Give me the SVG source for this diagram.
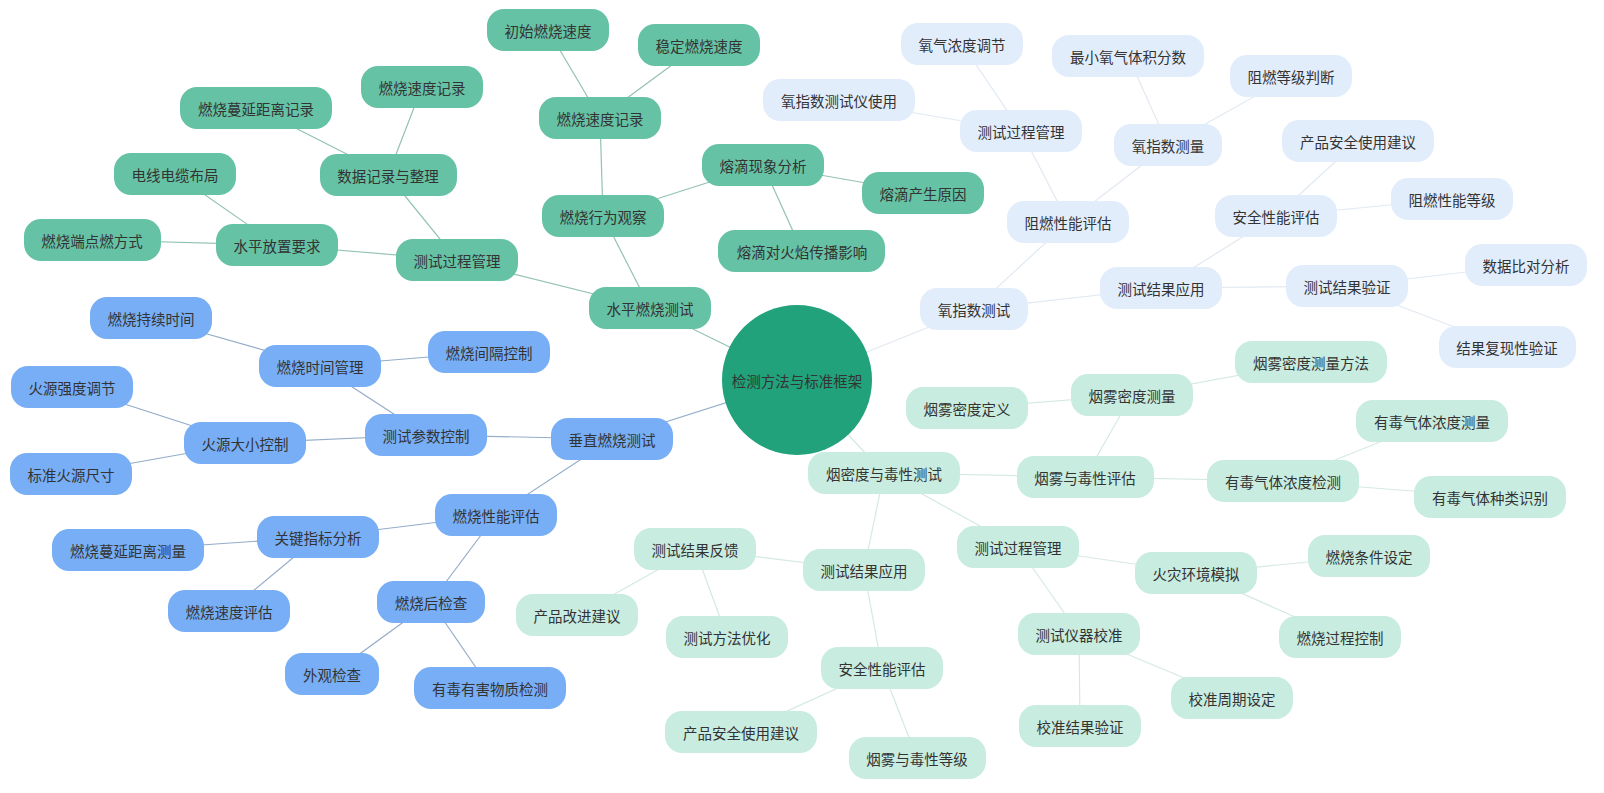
<svg xmlns="http://www.w3.org/2000/svg" width="1604" height="793" viewBox="0 0 1604 793">
<style>
text{font-family:"Noto Sans CJK SC","Noto Sans",sans-serif;font-size:14.5px;fill:#333;text-anchor:middle;dominant-baseline:central}
.g rect{fill:#66c2a5}
.b rect{fill:#78aef5}
.o rect{fill:#e2edfc}
.s rect{fill:#c8ece0}
.eg{stroke:#93c2b0;stroke-width:1.2;fill:none}
.eb{stroke:#93acc8;stroke-width:1.2;fill:none}
.eo{stroke:#e1e9f1;stroke-width:1.2;fill:none}
.es{stroke:#d5e9e2;stroke-width:1.2;fill:none}
</style>
<rect width="1604" height="793" fill="#ffffff"/>
<g id="connectors">
<line class="eg" x1="797" y1="380" x2="650" y2="308"/>
<line class="eb" x1="797" y1="380" x2="612" y2="439"/>
<line class="eo" x1="797" y1="380" x2="974" y2="309"/>
<line class="es" x1="797" y1="380" x2="884" y2="473"/>
<line class="eg" x1="650" y1="308" x2="457" y2="260"/>
<line class="eg" x1="650" y1="308" x2="603" y2="216"/>
<line class="eg" x1="457" y1="260" x2="277" y2="245"/>
<line class="eg" x1="457" y1="260" x2="388" y2="175"/>
<line class="eg" x1="277" y1="245" x2="92" y2="240"/>
<line class="eg" x1="277" y1="245" x2="175" y2="174"/>
<line class="eg" x1="388" y1="175" x2="256" y2="108"/>
<line class="eg" x1="388" y1="175" x2="422" y2="87"/>
<line class="eg" x1="603" y1="216" x2="600" y2="118"/>
<line class="eg" x1="603" y1="216" x2="763" y2="165"/>
<line class="eg" x1="600" y1="118" x2="548" y2="30"/>
<line class="eg" x1="600" y1="118" x2="699" y2="45"/>
<line class="eg" x1="763" y1="165" x2="923" y2="193"/>
<line class="eg" x1="763" y1="165" x2="802" y2="251"/>
<line class="eb" x1="612" y1="439" x2="426" y2="435"/>
<line class="eb" x1="612" y1="439" x2="496" y2="515"/>
<line class="eb" x1="426" y1="435" x2="320" y2="366"/>
<line class="eb" x1="426" y1="435" x2="245" y2="443"/>
<line class="eb" x1="320" y1="366" x2="151" y2="318"/>
<line class="eb" x1="320" y1="366" x2="489" y2="352"/>
<line class="eb" x1="245" y1="443" x2="72" y2="387"/>
<line class="eb" x1="245" y1="443" x2="71" y2="474"/>
<line class="eb" x1="496" y1="515" x2="318" y2="537"/>
<line class="eb" x1="496" y1="515" x2="431" y2="602"/>
<line class="eb" x1="318" y1="537" x2="128" y2="550"/>
<line class="eb" x1="318" y1="537" x2="229" y2="611"/>
<line class="eb" x1="431" y1="602" x2="332" y2="674"/>
<line class="eb" x1="431" y1="602" x2="490" y2="688"/>
<line class="eo" x1="974" y1="309" x2="1068" y2="222"/>
<line class="eo" x1="974" y1="309" x2="1161" y2="288"/>
<line class="eo" x1="1068" y1="222" x2="1021" y2="131"/>
<line class="eo" x1="1068" y1="222" x2="1168" y2="145"/>
<line class="eo" x1="1021" y1="131" x2="962" y2="44"/>
<line class="eo" x1="1021" y1="131" x2="839" y2="100"/>
<line class="eo" x1="1168" y1="145" x2="1128" y2="56"/>
<line class="eo" x1="1168" y1="145" x2="1291" y2="76"/>
<line class="eo" x1="1161" y1="288" x2="1276" y2="216"/>
<line class="eo" x1="1161" y1="288" x2="1347" y2="286"/>
<line class="eo" x1="1276" y1="216" x2="1358" y2="141"/>
<line class="eo" x1="1276" y1="216" x2="1452" y2="199"/>
<line class="eo" x1="1347" y1="286" x2="1526" y2="265"/>
<line class="eo" x1="1347" y1="286" x2="1507" y2="347"/>
<line class="es" x1="884" y1="473" x2="1085" y2="477"/>
<line class="es" x1="884" y1="473" x2="1018" y2="547"/>
<line class="es" x1="884" y1="473" x2="864" y2="570"/>
<line class="es" x1="1085" y1="477" x2="1132" y2="395"/>
<line class="es" x1="1085" y1="477" x2="1283" y2="481"/>
<line class="es" x1="1132" y1="395" x2="967" y2="408"/>
<line class="es" x1="1132" y1="395" x2="1311" y2="362"/>
<line class="es" x1="1283" y1="481" x2="1432" y2="421"/>
<line class="es" x1="1283" y1="481" x2="1490" y2="497"/>
<line class="es" x1="1018" y1="547" x2="1196" y2="573"/>
<line class="es" x1="1018" y1="547" x2="1079" y2="634"/>
<line class="es" x1="1196" y1="573" x2="1369" y2="556"/>
<line class="es" x1="1196" y1="573" x2="1340" y2="637"/>
<line class="es" x1="1079" y1="634" x2="1232" y2="698"/>
<line class="es" x1="1079" y1="634" x2="1080" y2="726"/>
<line class="es" x1="864" y1="570" x2="695" y2="549"/>
<line class="es" x1="864" y1="570" x2="882" y2="668"/>
<line class="es" x1="695" y1="549" x2="577" y2="615"/>
<line class="es" x1="695" y1="549" x2="727" y2="637"/>
<line class="es" x1="882" y1="668" x2="741" y2="732"/>
<line class="es" x1="882" y1="668" x2="917" y2="758"/>
</g>
<g id="root"><circle cx="797" cy="380" r="75" fill="#21a27a"/><text x="797" y="380">检测方法与标准框架</text></g>
<g id="h0" class="g"><rect x="589" y="287" width="122" height="42" rx="17"/><text x="650" y="308">水平燃烧测试</text></g>
<g id="h1" class="g"><rect x="396" y="239" width="122" height="42" rx="17"/><text x="457" y="260">测试过程管理</text></g>
<g id="h2" class="g"><rect x="216" y="224" width="122" height="42" rx="17"/><text x="277" y="245">水平放置要求</text></g>
<g id="h3" class="g"><rect x="24" y="219" width="137" height="42" rx="17"/><text x="92" y="240">燃烧端点燃方式</text></g>
<g id="h4" class="g"><rect x="114" y="153" width="122" height="42" rx="17"/><text x="175" y="174">电线电缆布局</text></g>
<g id="h5" class="g"><rect x="320" y="154" width="137" height="42" rx="17"/><text x="388" y="175">数据记录与整理</text></g>
<g id="h6" class="g"><rect x="180" y="87" width="152" height="42" rx="17"/><text x="256" y="108">燃烧蔓延距离记录</text></g>
<g id="h7" class="g"><rect x="361" y="66" width="122" height="42" rx="17"/><text x="422" y="87">燃烧速度记录</text></g>
<g id="h8" class="g"><rect x="542" y="195" width="122" height="42" rx="17"/><text x="603" y="216">燃烧行为观察</text></g>
<g id="h9" class="g"><rect x="539" y="97" width="122" height="42" rx="17"/><text x="600" y="118">燃烧速度记录</text></g>
<g id="h10" class="g"><rect x="487" y="9" width="122" height="42" rx="17"/><text x="548" y="30">初始燃烧速度</text></g>
<g id="h11" class="g"><rect x="638" y="24" width="122" height="42" rx="17"/><text x="699" y="45">稳定燃烧速度</text></g>
<g id="h12" class="g"><rect x="702" y="144" width="122" height="42" rx="17"/><text x="763" y="165">熔滴现象分析</text></g>
<g id="h13" class="g"><rect x="862" y="172" width="122" height="42" rx="17"/><text x="923" y="193">熔滴产生原因</text></g>
<g id="h14" class="g"><rect x="718" y="230" width="167" height="42" rx="17"/><text x="802" y="251">熔滴对火焰传播影响</text></g>
<g id="v0" class="b"><rect x="551" y="418" width="122" height="42" rx="17"/><text x="612" y="439">垂直燃烧测试</text></g>
<g id="v1" class="b"><rect x="365" y="414" width="122" height="42" rx="17"/><text x="426" y="435">测试参数控制</text></g>
<g id="v2" class="b"><rect x="259" y="345" width="122" height="42" rx="17"/><text x="320" y="366">燃烧时间管理</text></g>
<g id="v3" class="b"><rect x="90" y="297" width="122" height="42" rx="17"/><text x="151" y="318">燃烧持续时间</text></g>
<g id="v4" class="b"><rect x="428" y="331" width="122" height="42" rx="17"/><text x="489" y="352">燃烧间隔控制</text></g>
<g id="v5" class="b"><rect x="184" y="422" width="122" height="42" rx="17"/><text x="245" y="443">火源大小控制</text></g>
<g id="v6" class="b"><rect x="11" y="366" width="122" height="42" rx="17"/><text x="72" y="387">火源强度调节</text></g>
<g id="v7" class="b"><rect x="10" y="453" width="122" height="42" rx="17"/><text x="71" y="474">标准火源尺寸</text></g>
<g id="v8" class="b"><rect x="435" y="494" width="122" height="42" rx="17"/><text x="496" y="515">燃烧性能评估</text></g>
<g id="v9" class="b"><rect x="257" y="516" width="122" height="42" rx="17"/><text x="318" y="537">关键指标分析</text></g>
<g id="v10" class="b"><rect x="52" y="529" width="152" height="42" rx="17"/><text x="128" y="550">燃烧蔓延距离测量</text></g>
<g id="v11" class="b"><rect x="168" y="590" width="122" height="42" rx="17"/><text x="229" y="611">燃烧速度评估</text></g>
<g id="v12" class="b"><rect x="377" y="581" width="108" height="42" rx="17"/><text x="431" y="602">燃烧后检查</text></g>
<g id="v13" class="b"><rect x="285" y="653" width="94" height="42" rx="17"/><text x="332" y="674">外观检查</text></g>
<g id="v14" class="b"><rect x="414" y="667" width="152" height="42" rx="17"/><text x="490" y="688">有毒有害物质检测</text></g>
<g id="o0" class="o"><rect x="920" y="288" width="108" height="42" rx="17"/><text x="974" y="309">氧指数测试</text></g>
<g id="o1" class="o"><rect x="1007" y="201" width="122" height="42" rx="17"/><text x="1068" y="222">阻燃性能评估</text></g>
<g id="o2" class="o"><rect x="960" y="110" width="122" height="42" rx="17"/><text x="1021" y="131">测试过程管理</text></g>
<g id="o3" class="o"><rect x="901" y="23" width="122" height="42" rx="17"/><text x="962" y="44">氧气浓度调节</text></g>
<g id="o4" class="o"><rect x="763" y="79" width="152" height="42" rx="17"/><text x="839" y="100">氧指数测试仪使用</text></g>
<g id="o5" class="o"><rect x="1114" y="124" width="108" height="42" rx="17"/><text x="1168" y="145">氧指数测量</text></g>
<g id="o6" class="o"><rect x="1052" y="35" width="152" height="42" rx="17"/><text x="1128" y="56">最小氧气体积分数</text></g>
<g id="o7" class="o"><rect x="1230" y="55" width="122" height="42" rx="17"/><text x="1291" y="76">阻燃等级判断</text></g>
<g id="o8" class="o"><rect x="1100" y="267" width="122" height="42" rx="17"/><text x="1161" y="288">测试结果应用</text></g>
<g id="o9" class="o"><rect x="1215" y="195" width="122" height="42" rx="17"/><text x="1276" y="216">安全性能评估</text></g>
<g id="o10" class="o"><rect x="1282" y="120" width="152" height="42" rx="17"/><text x="1358" y="141">产品安全使用建议</text></g>
<g id="o11" class="o"><rect x="1391" y="178" width="122" height="42" rx="17"/><text x="1452" y="199">阻燃性能等级</text></g>
<g id="o12" class="o"><rect x="1286" y="265" width="122" height="42" rx="17"/><text x="1347" y="286">测试结果验证</text></g>
<g id="o13" class="o"><rect x="1465" y="244" width="122" height="42" rx="17"/><text x="1526" y="265">数据比对分析</text></g>
<g id="o14" class="o"><rect x="1439" y="326" width="137" height="42" rx="17"/><text x="1507" y="347">结果复现性验证</text></g>
<g id="s0" class="s"><rect x="808" y="452" width="152" height="42" rx="17"/><text x="884" y="473">烟密度与毒性测试</text></g>
<g id="s1" class="s"><rect x="1017" y="456" width="137" height="42" rx="17"/><text x="1085" y="477">烟雾与毒性评估</text></g>
<g id="s2" class="s"><rect x="1071" y="374" width="122" height="42" rx="17"/><text x="1132" y="395">烟雾密度测量</text></g>
<g id="s3" class="s"><rect x="906" y="387" width="122" height="42" rx="17"/><text x="967" y="408">烟雾密度定义</text></g>
<g id="s4" class="s"><rect x="1235" y="341" width="152" height="42" rx="17"/><text x="1311" y="362">烟雾密度测量方法</text></g>
<g id="s5" class="s"><rect x="1207" y="460" width="152" height="42" rx="17"/><text x="1283" y="481">有毒气体浓度检测</text></g>
<g id="s6" class="s"><rect x="1356" y="400" width="152" height="42" rx="17"/><text x="1432" y="421">有毒气体浓度测量</text></g>
<g id="s7" class="s"><rect x="1414" y="476" width="152" height="42" rx="17"/><text x="1490" y="497">有毒气体种类识别</text></g>
<g id="s8" class="s"><rect x="957" y="526" width="122" height="42" rx="17"/><text x="1018" y="547">测试过程管理</text></g>
<g id="s9" class="s"><rect x="1135" y="552" width="122" height="42" rx="17"/><text x="1196" y="573">火灾环境模拟</text></g>
<g id="s10" class="s"><rect x="1308" y="535" width="122" height="42" rx="17"/><text x="1369" y="556">燃烧条件设定</text></g>
<g id="s11" class="s"><rect x="1279" y="616" width="122" height="42" rx="17"/><text x="1340" y="637">燃烧过程控制</text></g>
<g id="s12" class="s"><rect x="1018" y="613" width="122" height="42" rx="17"/><text x="1079" y="634">测试仪器校准</text></g>
<g id="s13" class="s"><rect x="1171" y="677" width="122" height="42" rx="17"/><text x="1232" y="698">校准周期设定</text></g>
<g id="s14" class="s"><rect x="1019" y="705" width="122" height="42" rx="17"/><text x="1080" y="726">校准结果验证</text></g>
<g id="s15" class="s"><rect x="803" y="549" width="122" height="42" rx="17"/><text x="864" y="570">测试结果应用</text></g>
<g id="s16" class="s"><rect x="634" y="528" width="122" height="42" rx="17"/><text x="695" y="549">测试结果反馈</text></g>
<g id="s17" class="s"><rect x="516" y="594" width="122" height="42" rx="17"/><text x="577" y="615">产品改进建议</text></g>
<g id="s18" class="s"><rect x="666" y="616" width="122" height="42" rx="17"/><text x="727" y="637">测试方法优化</text></g>
<g id="s19" class="s"><rect x="821" y="647" width="122" height="42" rx="17"/><text x="882" y="668">安全性能评估</text></g>
<g id="s20" class="s"><rect x="665" y="711" width="152" height="42" rx="17"/><text x="741" y="732">产品安全使用建议</text></g>
<g id="s21" class="s"><rect x="849" y="737" width="137" height="42" rx="17"/><text x="917" y="758">烟雾与毒性等级</text></g>
</svg>
